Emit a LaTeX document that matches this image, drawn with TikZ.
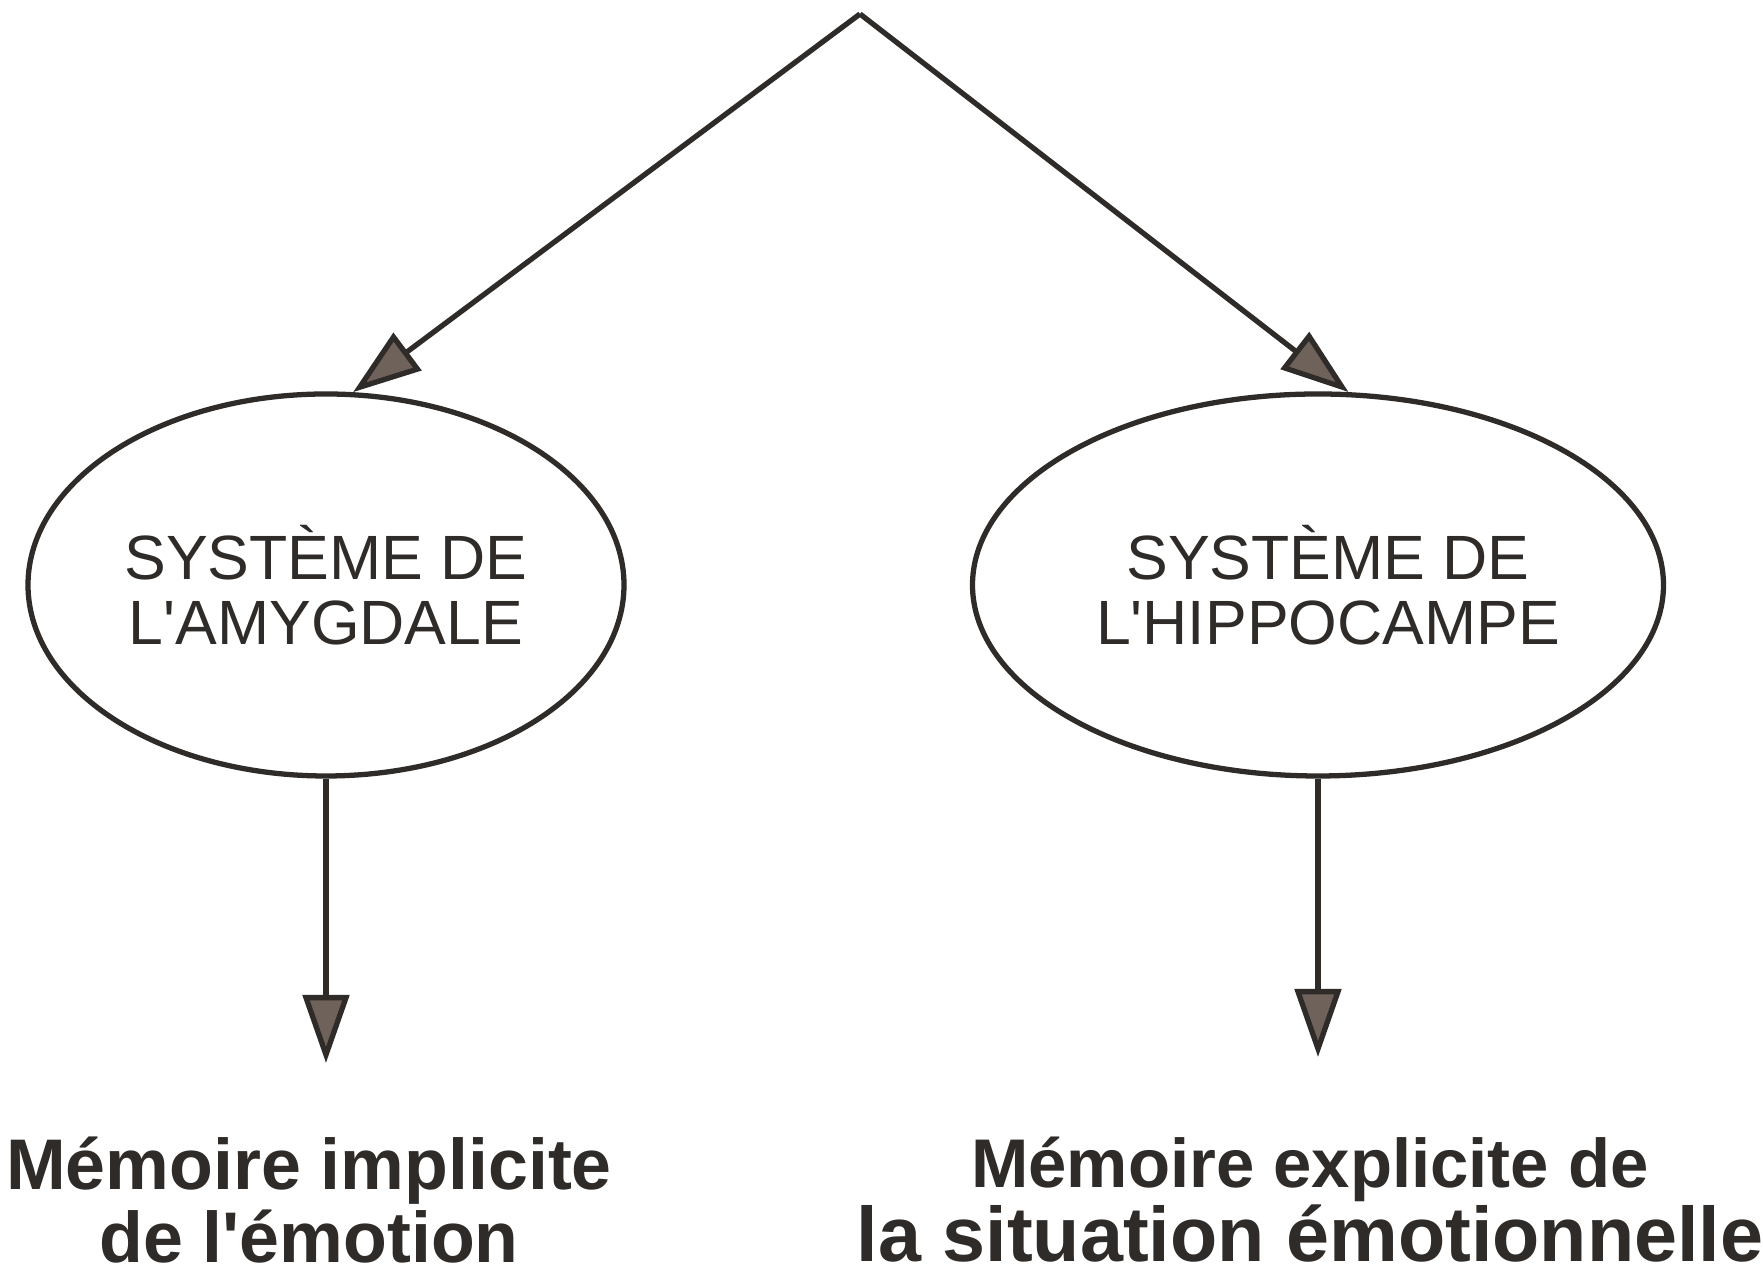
\documentclass[tikz,border=0pt]{standalone}
\usepackage{fontspec}
\setmainfont{Liberation Sans}
\usetikzlibrary{arrows.meta,shapes.geometric}
\definecolor{inkc}{HTML}{2E2B29}
\definecolor{headfill}{HTML}{6E625A}
\tikzset{
  ink/.style={draw=inkc, line width=1.5pt},
  arr/.style={ink, -{Triangle[length=6.8mm, width=4.6mm, fill=headfill]}},
  ell/.style={ellipse, ink, inner sep=0pt, align=center, text=inkc,
    font=\fontsize{17.8}{18.5}\selectfont},
  memtext/.style={align=center, inner sep=0pt, text=inkc,
    font=\bfseries\fontsize{20.4}{21}\selectfont}
}
\begin{document}
\begin{tikzpicture}
\useasboundingbox (0,0) rectangle (17.63,12.79);
\fill[white] (0,0) rectangle (17.63,12.79);
\coordinate (apex) at (8.60,12.65);
\node[ell, minimum width=5.96cm, minimum height=3.82cm] (L) at (3.26,6.94)
  {SYSTÈME DE\\L\textquotesingle AMYGDALE};
\node[ell, minimum width=6.91cm, minimum height=3.82cm] (R) at (13.18,6.94)
  {\hspace*{0.2cm}SYSTÈME DE\\\hspace*{0.2cm}L\textquotesingle HIPPOCAMPE};
\node[memtext] (Lmem) at (3.09,0.79) {Mémoire implicite\\de l\textquotesingle émotion};
\node[memtext] (Rmem) at (13.10,0.79)
  {{\fontsize{19.6}{21}\selectfont Mémoire explicite de}\\
   {\fontsize{22}{21}\selectfont la situation émotionnelle}};
\coordinate (Lend) at (L.south |- 0,2.16);
\coordinate (Rend) at (R.south |- 0,2.22);
\draw[arr] (apex) -- (L.82);
\draw[arr] (apex) -- (R.81);
\draw[arr] (L.south) -- (Lend);
\draw[arr] (R.south) -- (Rend);
\end{tikzpicture}
\end{document}
